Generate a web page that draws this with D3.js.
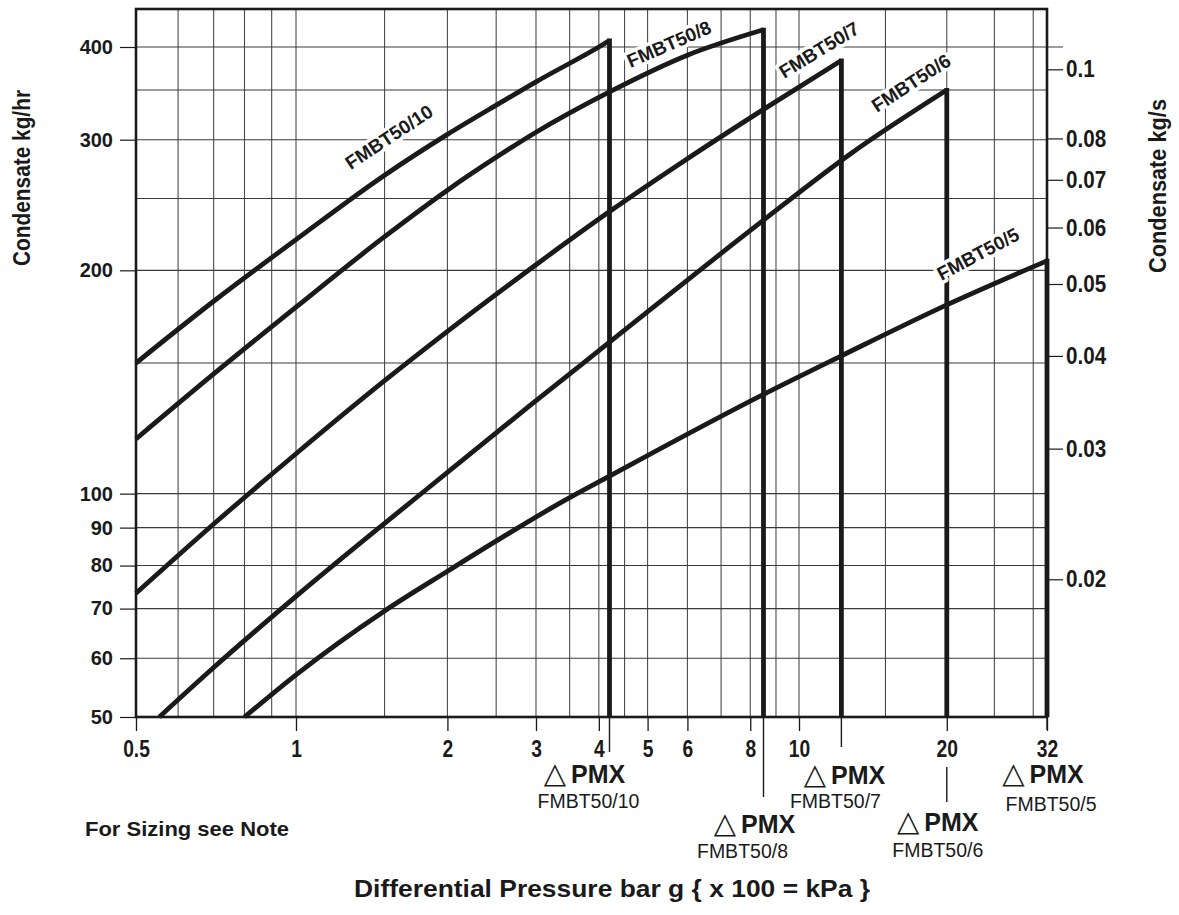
<!DOCTYPE html>
<html><head><meta charset="utf-8">
<script src="https://cdn.jsdelivr.net/npm/d3@7"></script>
<style>
body{margin:0;background:#fff;}
svg{display:block;font-family:"Liberation Sans",Arial,Helvetica,sans-serif;}
</style></head><body>
<svg id="chart" width="1179" height="915"></svg>
<script>
// ---------------- data ----------------
const models = ["FMBT50/10", "FMBT50/8", "FMBT50/7", "FMBT50/6", "FMBT50/5"];
const pmxBar = [4.2, 8.5, 12.2, 20, 32];

const pressure10 = [0.5, 0.7, 1, 1.5, 2, 2.54, 3, 4, 4.2];
const flow10     = [150, 181.7, 220, 268.7, 305, 336, 359, 400, 408];

const pressure8 = [0.5, 0.7, 1, 1.5, 2, 2.54, 3, 4.2, 6, 8.5];
const flow8     = [118.5, 145, 178.4, 222, 256.5, 286, 307, 348, 390, 422];

const pressure7 = [0.5, 0.7, 1, 1.5, 2, 3, 4.2, 6, 8.5, 12.2];
const flow7     = [73.4, 91, 113.2, 142, 165.5, 203.5, 240, 282.8, 329.6, 383.6];

const pressure6 = [0.553, 0.7, 1, 1.5, 2, 2.92, 4.2, 7.3, 8.5, 12.7, 20];
const flow6     = [50, 58.3, 72.7, 91.2, 106.8, 131.5, 160, 215.6, 233.7, 286.8, 350];

const pressure5 = [0.8, 1, 1.5, 2, 2.54, 3.4, 4.2, 8.5, 12.2, 20, 32];
const flow5     = [50, 57, 69.5, 78.6, 86.9, 97.7, 105.6, 136.1, 153.4, 179.7, 206];

const xTickValues = [0.5, 1, 2, 3, 4, 5, 6, 8, 10, 20, 32];
const xGridValues = [0.6, 0.7, 0.8, 0.9, 1, 1.5, 2, 2.5, 3, 3.5, 4, 4.5, 5, 6, 7, 8, 9, 10, 15, 20, 25, 30];
const yTickValues = [50, 60, 70, 80, 90, 100, 200, 300, 400];
const yGridValues = [60, 70, 80, 90, 100, 150, 200, 250, 300, 350, 400];
const kgsTickValues = [0.02, 0.03, 0.04, 0.05, 0.06, 0.07, 0.08, 0.1];

// ---------------- layout ----------------
const INK = "#1a1a1a";
const plotTop = 9;
const x = d3.scaleLog().domain([0.5, 1, 10, 32]).range([136, 296, 799, 1047]);
const y = d3.scaleLog().domain([50, 400]).range([717, 47]);
const yR = d3.scaleLog().domain([0.02, 0.05, 0.1]).range([579.3, 284, 69.3]);
const x0 = x(0.5), x1 = x(32), yB = y(50);

const series = [
  {p: pressure10, f: flow10},
  {p: pressure8,  f: flow8},
  {p: pressure7,  f: flow7},
  {p: pressure6,  f: flow6},
  {p: pressure5,  f: flow5}
];
// curve label placement (centre, angle)
const curveLabelPos = [
  {cx: 389, cy: 137, a: -33.5},
  {cx: 669, cy: 44,  a: -23.5},
  {cx: 819, cy: 50,  a: -31.5},
  {cx: 911, cy: 83,  a: -33},
  {cx: 978, cy: 254, a: -28}
];
// PMX annotation placement relative to the cut-off line
const pmxPos = [
  {dx: -25, py: 783, ny: 808, ndx: -21, l1: 717, l2: 752},
  {dx: -9,  py: 833, ny: 858, ndx: -21, l1: 717, l2: 797},
  {dx: 3,   py: 784, ny: 808, ndx: -6,  l1: 717, l2: 747},
  {dx: -9,  py: 831, ny: 857, ndx: -9,  l1: 767, l2: 802},
  {dx: -4,  py: 783, ny: 811, ndx: 4,   l1: 717, l2: 730}
];

const svg = d3.select("#chart");
svg.append("rect").attr("width", 1179).attr("height", 915).attr("fill", "#fff");

function condense(sel, f) {
  sel.each(function () {
    const w = this.getComputedTextLength();
    this.setAttribute("textLength", (w * f).toFixed(1));
    this.setAttribute("lengthAdjust", "spacingAndGlyphs");
  });
}

// grid
const grid = svg.append("g");
grid.selectAll("line.v").data(xGridValues).join("line")
  .attr("x1", d => x(d)).attr("x2", d => x(d))
  .attr("y1", plotTop).attr("y2", yB)
  .attr("stroke", "#4a4a4a").attr("stroke-width", 1.1);
grid.selectAll("line.h").data(yGridValues).join("line")
  .attr("x1", x0).attr("x2", d => d === 400 ? x1 + 16 : x1)
  .attr("y1", d => y(d)).attr("y2", d => y(d))
  .attr("stroke", "#3a3a3a").attr("stroke-width", 1.1);

// border
svg.append("rect").attr("x", x0).attr("y", plotTop)
  .attr("width", x1 - x0).attr("height", yB - plotTop)
  .attr("fill", "none").attr("stroke", INK).attr("stroke-width", 2.6);

// axes
const gL = svg.append("g").attr("transform", `translate(${x0},0)`)
  .call(d3.axisLeft(y).tickValues(yTickValues).tickFormat(d => d).tickSize(16).tickPadding(7));
gL.select(".domain").remove();
gL.selectAll("line").attr("stroke", INK).attr("stroke-width", 1.2);
gL.selectAll("text").attr("font-size", 20).attr("font-weight", "bold")
  .attr("font-family", "Liberation Sans, Arial, sans-serif").attr("fill", INK);

const gB = svg.append("g").attr("transform", `translate(0,${yB})`)
  .call(d3.axisBottom(x).tickValues(xTickValues).tickFormat(d => d).tickSize(14).tickPadding(9));
gB.select(".domain").remove();
gB.selectAll("line").attr("stroke", INK).attr("stroke-width", 1.3);
gB.selectAll("text").attr("font-size", 24).attr("font-weight", "bold")
  .attr("font-family", "Liberation Sans, Arial, sans-serif").attr("fill", INK)
  .call(condense, 0.8);

const gR = svg.append("g").attr("transform", `translate(${x1},0)`)
  .call(d3.axisRight(yR).tickValues(kgsTickValues).tickFormat(d => String(d)).tickSize(16).tickPadding(3));
gR.select(".domain").remove();
gR.selectAll("line").attr("stroke", INK).attr("stroke-width", 1.2);
gR.selectAll("text").attr("font-size", 24).attr("font-weight", "bold")
  .attr("font-family", "Liberation Sans, Arial, sans-serif").attr("fill", INK)
  .call(condense, 0.86);

// curves
const line = d3.line().x(d => x(d[0])).y(d => y(d[1])).curve(d3.curveMonotoneX);
const gC = svg.append("g");
series.forEach((s, i) => {
  const pts = s.p.map((p, k) => [p, s.f[k]]);
  gC.append("path").attr("d", line(pts))
    .attr("fill", "none").attr("stroke", INK).attr("stroke-width", 4.8)
    .attr("stroke-linejoin", "round");
  const last = pts[pts.length - 1];
  gC.append("line")
    .attr("x1", x(pmxBar[i])).attr("x2", x(pmxBar[i]))
    .attr("y1", y(last[1]) - 2).attr("y2", yB)
    .attr("stroke", INK).attr("stroke-width", 4.8);
});

// curve labels
svg.append("g").selectAll("text").data(models).join("text")
  .attr("transform", (d, i) => `translate(${curveLabelPos[i].cx},${curveLabelPos[i].cy}) rotate(${curveLabelPos[i].a})`)
  .attr("text-anchor", "middle").attr("dy", "0.35em")
  .attr("font-size", 19).attr("font-weight", "bold").attr("fill", INK)
  .attr("stroke", "#fff").attr("stroke-width", 7).attr("paint-order", "stroke")
  .attr("stroke-linejoin", "round")
  .text(d => d);

// PMX annotations
const gP = svg.append("g");
models.forEach((m, i) => {
  const px = x(pmxBar[i]);
  const L = pmxPos[i];
  gP.append("line").attr("x1", px).attr("x2", px).attr("y1", L.l1).attr("y2", L.l2)
    .attr("stroke", INK).attr("stroke-width", 1.4);
  const t = gP.append("text").attr("x", px + L.dx).attr("y", L.py)
    .attr("text-anchor", "middle").attr("fill", INK);
  t.append("tspan").attr("font-family", "DejaVu Sans").attr("font-size", 29).text("△");
  t.append("tspan").attr("dx", 5).attr("font-weight", "bold").attr("font-size", 25).text("PMX");
  gP.append("text").attr("x", px + L.ndx).attr("y", L.ny)
    .attr("text-anchor", "middle").attr("font-size", 19.5).attr("fill", INK).text(m);
});

// titles and notes
svg.append("text").attr("transform", "translate(22,178) rotate(-90)")
  .attr("text-anchor", "middle").attr("dy", "0.35em")
  .attr("font-size", 23).attr("font-weight", "bold").attr("fill", INK)
  .attr("textLength", 176).attr("lengthAdjust", "spacingAndGlyphs")
  .text("Condensate kg/hr");
svg.append("text").attr("transform", "translate(1158,186) rotate(-90)")
  .attr("text-anchor", "middle").attr("dy", "0.35em")
  .attr("font-size", 23).attr("font-weight", "bold").attr("fill", INK)
  .attr("textLength", 174).attr("lengthAdjust", "spacingAndGlyphs")
  .text("Condensate kg/s");
svg.append("text").attr("x", 85).attr("y", 836)
  .attr("font-size", 21).attr("font-weight", "bold").attr("fill", INK)
  .attr("textLength", 204).attr("lengthAdjust", "spacingAndGlyphs")
  .text("For Sizing see Note");
svg.append("text").attr("x", 612).attr("y", 897)
  .attr("text-anchor", "middle")
  .attr("font-size", 24).attr("font-weight", "bold").attr("fill", INK)
  .attr("textLength", 516).attr("lengthAdjust", "spacingAndGlyphs")
  .text("Differential Pressure bar g { x 100 = kPa }");
</script>
</body></html>
